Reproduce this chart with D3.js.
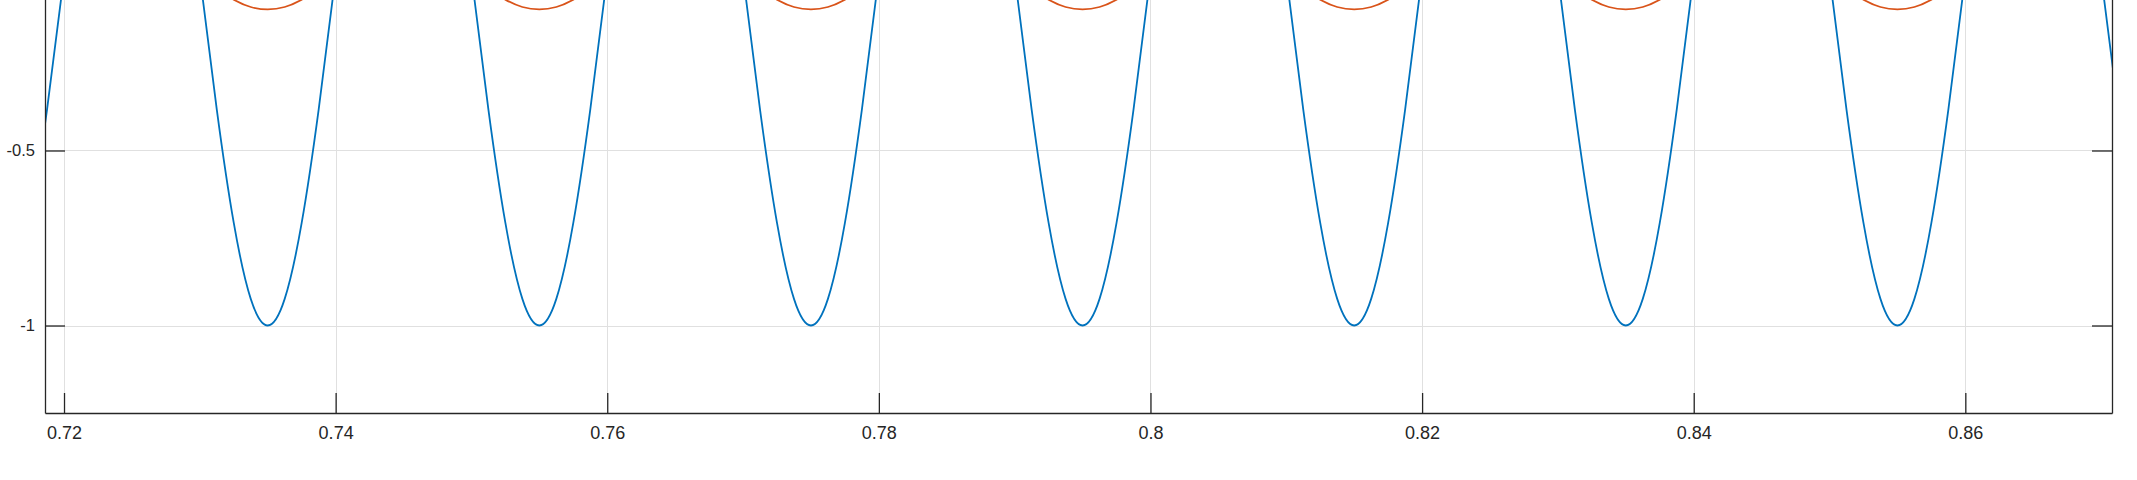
<!DOCTYPE html>
<html>
<head>
<meta charset="utf-8">
<script src="https://cdn.jsdelivr.net/npm/d3@7"></script>
<style>
  html, body { margin: 0; padding: 0; background: #fff; overflow: hidden; }
  svg { display: block; }
</style>
</head>
<body>
<script>
// time samples (s)
const time = [
  0.7175, 0.71875,
  0.72, 0.72125, 0.7225, 0.72375, 0.725, 0.72625, 0.7275, 0.72875, 0.73, 0.73125, 0.7325, 0.73375, 0.735, 0.73625, 0.7375, 0.73875,
  0.74, 0.74125, 0.7425, 0.74375, 0.745, 0.74625, 0.7475, 0.74875, 0.75, 0.75125, 0.7525, 0.75375, 0.755, 0.75625, 0.7575, 0.75875,
  0.76, 0.76125, 0.7625, 0.76375, 0.765, 0.76625, 0.7675, 0.76875, 0.77, 0.77125, 0.7725, 0.77375, 0.775, 0.77625, 0.7775, 0.77875,
  0.78, 0.78125, 0.7825, 0.78375, 0.785, 0.78625, 0.7875, 0.78875, 0.79, 0.79125, 0.7925, 0.79375, 0.795, 0.79625, 0.7975, 0.79875,
  0.80, 0.80125, 0.8025, 0.80375, 0.805, 0.80625, 0.8075, 0.80875, 0.81, 0.81125, 0.8125, 0.81375, 0.815, 0.81625, 0.8175, 0.81875,
  0.82, 0.82125, 0.8225, 0.82375, 0.825, 0.82625, 0.8275, 0.82875, 0.83, 0.83125, 0.8325, 0.83375, 0.835, 0.83625, 0.8375, 0.83875,
  0.84, 0.84125, 0.8425, 0.84375, 0.845, 0.84625, 0.8475, 0.84875, 0.85, 0.85125, 0.8525, 0.85375, 0.855, 0.85625, 0.8575, 0.85875,
  0.86, 0.86125, 0.8625, 0.86375, 0.865, 0.86625, 0.8675, 0.86875, 0.87, 0.87125, 0.8725
];

// blue signal
const signalA = [
  -0.707, -0.383,
  0, 0.383, 0.707, 0.924, 1, 0.924, 0.707, 0.383, 0, -0.383, -0.707, -0.924, -1, -0.924, -0.707, -0.383,
  0, 0.383, 0.707, 0.924, 1, 0.924, 0.707, 0.383, 0, -0.383, -0.707, -0.924, -1, -0.924, -0.707, -0.383,
  0, 0.383, 0.707, 0.924, 1, 0.924, 0.707, 0.383, 0, -0.383, -0.707, -0.924, -1, -0.924, -0.707, -0.383,
  0, 0.383, 0.707, 0.924, 1, 0.924, 0.707, 0.383, 0, -0.383, -0.707, -0.924, -1, -0.924, -0.707, -0.383,
  0, 0.383, 0.707, 0.924, 1, 0.924, 0.707, 0.383, 0, -0.383, -0.707, -0.924, -1, -0.924, -0.707, -0.383,
  0, 0.383, 0.707, 0.924, 1, 0.924, 0.707, 0.383, 0, -0.383, -0.707, -0.924, -1, -0.924, -0.707, -0.383,
  0, 0.383, 0.707, 0.924, 1, 0.924, 0.707, 0.383, 0, -0.383, -0.707, -0.924, -1, -0.924, -0.707, -0.383,
  0, 0.383, 0.707, 0.924, 1, 0.924, 0.707, 0.383, 0, -0.383, -0.707
];

// orange signal
const signalB = [
  -0.069, -0.037,
  0, 0.037, 0.069, 0.090, 0.097, 0.090, 0.069, 0.037, 0, -0.037, -0.069, -0.090, -0.097, -0.090, -0.069, -0.037,
  0, 0.037, 0.069, 0.090, 0.097, 0.090, 0.069, 0.037, 0, -0.037, -0.069, -0.090, -0.097, -0.090, -0.069, -0.037,
  0, 0.037, 0.069, 0.090, 0.097, 0.090, 0.069, 0.037, 0, -0.037, -0.069, -0.090, -0.097, -0.090, -0.069, -0.037,
  0, 0.037, 0.069, 0.090, 0.097, 0.090, 0.069, 0.037, 0, -0.037, -0.069, -0.090, -0.097, -0.090, -0.069, -0.037,
  0, 0.037, 0.069, 0.090, 0.097, 0.090, 0.069, 0.037, 0, -0.037, -0.069, -0.090, -0.097, -0.090, -0.069, -0.037,
  0, 0.037, 0.069, 0.090, 0.097, 0.090, 0.069, 0.037, 0, -0.037, -0.069, -0.090, -0.097, -0.090, -0.069, -0.037,
  0, 0.037, 0.069, 0.090, 0.097, 0.090, 0.069, 0.037, 0, -0.037, -0.069, -0.090, -0.097, -0.090, -0.069, -0.037,
  0, 0.037, 0.069, 0.090, 0.097, 0.090, 0.069, 0.037, 0, -0.037, -0.069
];

const xTicks = [0.72, 0.74, 0.76, 0.78, 0.8, 0.82, 0.84, 0.86];
const xTickLabels = ["0.72", "0.74", "0.76", "0.78", "0.8", "0.82", "0.84", "0.86"];
// only the ticks that fall inside the visible crop
const yTicks = [-1, -0.5];
const yTickLabels = ["-1", "-0.5"];

const width = 2137;
const height = 480;
// plot box (its top edge lies above the visible picture)
const left = 45, right = 2112, bottom = 413;
const unit = 350; // px per y unit

const x = d3.scaleLinear().domain([0.7186, 0.8708]).range([left, right]);
const y = d3.scaleLinear().domain([-1.25, 1.25]).range([bottom, bottom - 2.5 * unit]);
const plotTop = y(1.25);

const axisColor = "#262626";
const font = "'Liberation Sans', Arial, sans-serif";

const svg = d3.select("body").append("svg")
  .attr("width", width)
  .attr("height", height);

svg.append("defs").append("clipPath")
  .attr("id", "plot")
  .append("rect")
  .attr("x", left).attr("y", plotTop)
  .attr("width", right - left).attr("height", bottom - plotTop);

// grid
const grid = svg.append("g").attr("stroke", "#e0e0e0").attr("stroke-width", 1);
grid.selectAll("line.vx")
  .data(xTicks)
  .join("line")
  .attr("class", "vx")
  .attr("x1", d => Math.round(x(d)) + 0.5).attr("x2", d => Math.round(x(d)) + 0.5)
  .attr("y1", 0).attr("y2", bottom);
grid.selectAll("line.hy")
  .data(yTicks)
  .join("line")
  .attr("class", "hy")
  .attr("x1", left).attr("x2", right)
  .attr("y1", d => Math.round(y(d)) + 0.5).attr("y2", d => Math.round(y(d)) + 0.5);

// curves
const pointsA = time.map((t, i) => [t, signalA[i]]);
const pointsB = time.map((t, i) => [t, signalB[i]]);

const line = d3.line()
  .x(d => x(d[0]))
  .y(d => y(d[1]))
  .curve(d3.curveNatural);

const plot = svg.append("g").attr("clip-path", "url(#plot)");
plot.append("path")
  .datum(pointsA)
  .attr("fill", "none")
  .attr("stroke", "#0072BD")
  .attr("stroke-width", 1.8)
  .attr("d", line);
plot.append("path")
  .datum(pointsB)
  .attr("fill", "none")
  .attr("stroke", "#D95319")
  .attr("stroke-width", 1.8)
  .attr("d", line);

// axes
const xAxis = svg.append("g")
  .attr("transform", `translate(0,${bottom})`)
  .call(d3.axisBottom(x).tickValues(xTicks)
    .tickFormat((d, i) => xTickLabels[i])
    .tickSizeInner(-20).tickSizeOuter(0).tickPadding(13));

const yAxis = svg.append("g")
  .attr("transform", `translate(${left},0)`)
  .call(d3.axisLeft(y).tickValues(yTicks)
    .tickFormat((d, i) => yTickLabels[i])
    .tickSizeInner(-20).tickSizeOuter(0).tickPadding(10));

const yAxisRight = svg.append("g")
  .attr("transform", `translate(${right},0)`)
  .call(d3.axisLeft(y).tickValues(yTicks)
    .tickFormat("")
    .tickSizeInner(20).tickSizeOuter(0));

[xAxis, yAxis, yAxisRight].forEach(g => {
  g.select(".domain").attr("stroke", axisColor).attr("stroke-width", 1.3);
  g.selectAll(".tick line").attr("stroke", axisColor).attr("stroke-width", 1.3);
  g.selectAll(".tick text").attr("fill", axisColor).attr("font-family", font);
});
xAxis.selectAll(".tick text").attr("font-size", 18);
yAxis.selectAll(".tick text").attr("font-size", 16.5);
</script>
</body>
</html>
